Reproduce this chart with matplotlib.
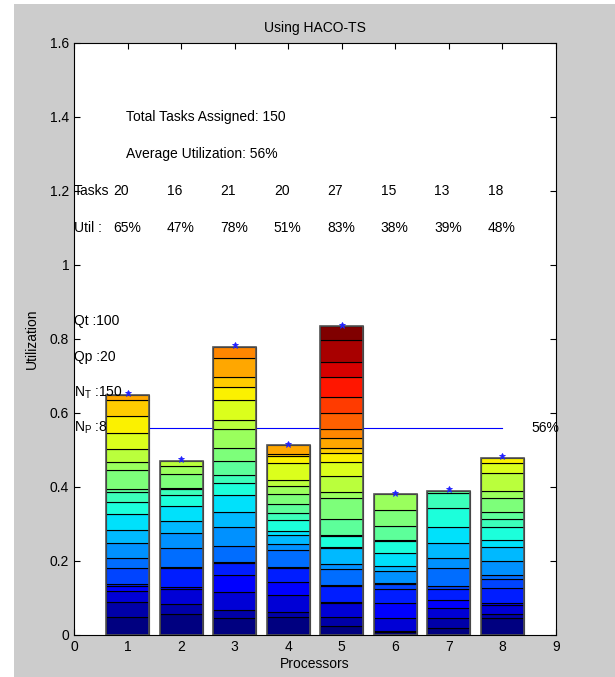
import numpy as np
import matplotlib
matplotlib.use('Agg')
import matplotlib.pyplot as plt
from matplotlib.patches import Rectangle

plt.rcParams['font.family'] = ['Liberation Sans', 'DejaVu Sans']

# task utilizations stacked on each processor (bottom -> top)
proc1 = [0.0478, 0.0423, 0.0297, 0.0135, 0.0040, 0.0429, 0.0270, 0.0405, 0.0361, 0.0423,
         0.0325, 0.0288, 0.0063, 0.0522, 0.0226, 0.0342, 0.0441, 0.0451, 0.0423, 0.0154]
proc2 = [0.0559, 0.0279, 0.0405, 0.0063, 0.0496, 0.0040, 0.0500, 0.0406, 0.0342, 0.0405,
         0.0289, 0.0153, 0.0040, 0.0383, 0.0199, 0.0153]
proc3 = [0.0451, 0.0225, 0.0477, 0.0469, 0.0315, 0.0040, 0.0428, 0.0523, 0.0387, 0.0469,
         0.0315, 0.0225, 0.0379, 0.0342, 0.0532, 0.0234, 0.0540, 0.0343, 0.0288, 0.0495, 0.0316]
proc4 = [0.0478, 0.0153, 0.0450, 0.0342, 0.0379, 0.0040, 0.0455, 0.0154, 0.0252, 0.0108,
         0.0297, 0.0180, 0.0253, 0.0261, 0.0225, 0.0162, 0.0451, 0.0207, 0.0036, 0.0252]
proc5 = [0.0243, 0.0252, 0.0361, 0.0030, 0.0447, 0.0030, 0.0412, 0.0135, 0.0450, 0.0030,
         0.0286, 0.0030, 0.0429, 0.0559, 0.0180, 0.0432, 0.0379, 0.0225, 0.0153, 0.0252,
         0.0244, 0.0450, 0.0432, 0.0523, 0.0405, 0.0604, 0.0378]
proc6 = [0.0072, 0.0030, 0.0348, 0.0406, 0.0387, 0.0135, 0.0030, 0.0331, 0.0135, 0.0333,
         0.0343, 0.0030, 0.0366, 0.0432, 0.0433]
proc7 = [0.0180, 0.0288, 0.0253, 0.0225, 0.0288, 0.0099, 0.0469, 0.0270, 0.0423, 0.0433,
         0.0495, 0.0424, 0.0054]
proc8 = [0.0450, 0.0109, 0.0252, 0.0063, 0.0387, 0.0244, 0.0117, 0.0387, 0.0378, 0.0181,
         0.0360, 0.0198, 0.0189, 0.0379, 0.0207, 0.0468, 0.0271, 0.0153]

processors = [1, 2, 3, 4, 5, 6, 7, 8]
task_counts = [20, 16, 21, 20, 27, 15, 13, 18]
util_pct = [65, 47, 78, 51, 83, 38, 39, 48]
avg_util = 0.56
params = ['Qt :100', 'Qp :20', r'N$_\mathregular{T}$ :150', r'N$_\mathregular{P}$ :8']
param_y = [0.85, 0.75, 0.655, 0.56]

all_procs = [proc1, proc2, proc3, proc4, proc5, proc6, proc7, proc8]
ncol = max(len(p) for p in all_procs)
colors = plt.cm.jet(np.linspace(0, 1, ncol))
fs = 10

fig = plt.figure(figsize=(6.15, 6.77), dpi=100, facecolor='white')
# gray matlab-style figure background
fig.patches.append(Rectangle((14 / 615, 0), 1, 1 - 4 / 677, transform=fig.transFigure,
                             facecolor='#cccccc', edgecolor='none', zorder=-10))
ax = fig.add_axes([74 / 615, 1 - 635 / 677, (556 - 74) / 615, (635 - 43) / 677])

# average line sits behind bars
ax.plot([1, 8], [avg_util, avg_util], color='#0000ff', lw=0.8, zorder=1)
ax.text(8.55, avg_util, '%d%%' % round(avg_util * 100), fontsize=fs, va='center')

for x, segs in zip(processors, all_procs):
    bottom = 0
    for k, h in enumerate(segs):
        ax.bar(x, h, width=0.8, bottom=bottom, color=colors[k], edgecolor='black',
               linewidth=0.8, zorder=2)
        bottom += h
    # outer frame of the stack
    ax.bar(x, bottom, width=0.8, fill=False, edgecolor='#555555', linewidth=1.2, zorder=2.5)
    ax.plot(x, bottom + 0.004, marker='*', color='#2020ff', ms=5, mew=0.6, zorder=3)

ax.text(0.98, 1.40, 'Total Tasks Assigned: %d' % sum(task_counts), fontsize=fs, va='center')
ax.text(0.98, 1.30, 'Average Utilization: %d%%' % round(avg_util * 100), fontsize=fs, va='center')
ax.text(0.0, 1.20, 'Tasks', fontsize=fs, va='center')
ax.text(0.0, 1.10, 'Util :', fontsize=fs, va='center')
for x, n, u in zip(processors, task_counts, util_pct):
    ax.text(x - 0.27, 1.20, str(n), fontsize=fs, va='center')
    ax.text(x - 0.27, 1.10, '%d%%' % u, fontsize=fs, va='center')
for s, y in zip(params, param_y):
    ax.text(0.0, y, s, fontsize=fs, va='center')

ax.set_xlim(0, 9)
ax.set_ylim(0, 1.6)
ax.set_xticks(range(10))
ax.set_yticks(np.arange(0, 1.61, 0.2))
ax.set_yticklabels(['0', '0.2', '0.4', '0.6', '0.8', '1', '1.2', '1.4', '1.6'])
ax.tick_params(direction='in', top=True, right=True, length=4, width=0.8, labelsize=fs)
for sp in ax.spines.values():
    sp.set_linewidth(0.8)
ax.set_title('Using HACO-TS', fontsize=fs, pad=8)
ax.set_xlabel('Processors', fontsize=fs, labelpad=2)
ax.set_ylabel('Utilization', fontsize=fs, labelpad=8)

fig.savefig('out.png', dpi=100, facecolor=fig.get_facecolor())
